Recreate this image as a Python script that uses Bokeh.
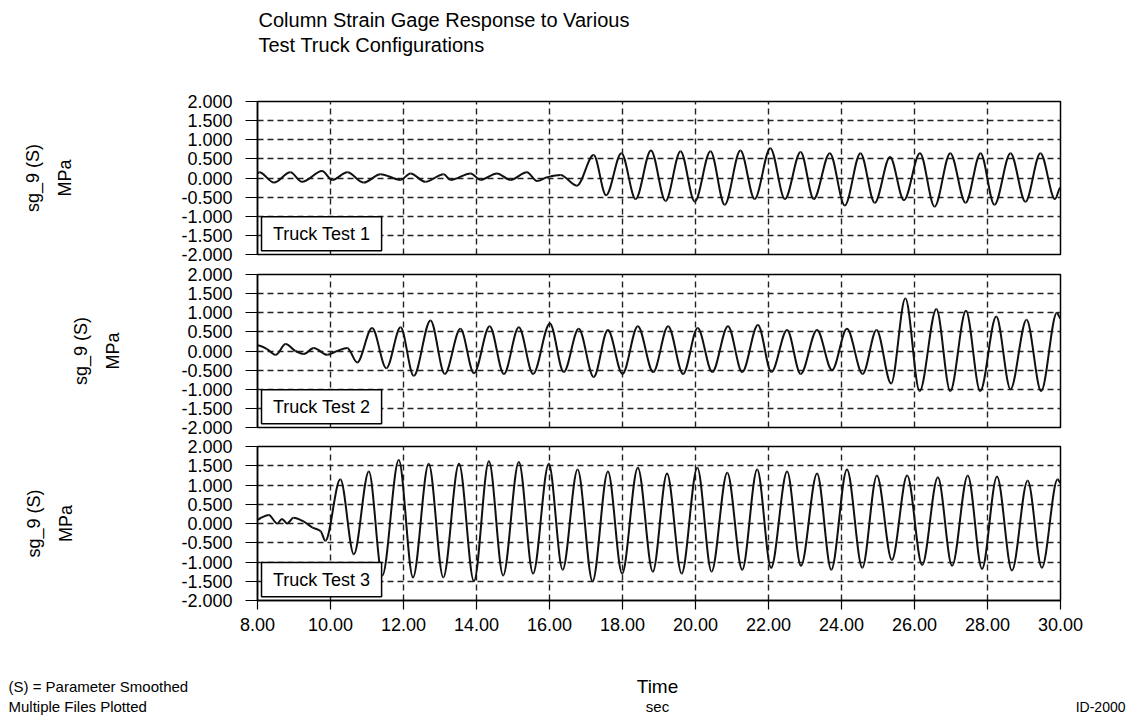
import numpy as np
from bokeh.plotting import figure
from bokeh.models import (LinearAxis, Grid, FixedTicker, PrintfTickFormatter,
                          Range1d, Label, BoxAnnotation, ColumnDataSource)
from bokeh.layouts import column
from bokeh.embed import file_html
from bokeh.resources import INLINE
from bokeh.core.properties import value

FONT = "Liberation Sans"

# ---------------- data ----------------
title_lines = ["Column Strain Gage Response to Various", "Test Truck Configurations"]
x_ticks = [8.0, 10.0, 12.0, 14.0, 16.0, 18.0, 20.0, 22.0, 24.0, 26.0, 28.0, 30.0]
y_ticks = [-2.0, -1.5, -1.0, -0.5, 0.0, 0.5, 1.0, 1.5, 2.0]
test_names = ["Truck Test 1", "Truck Test 2", "Truck Test 3"]
y_title = "sg_9 (S)\nMPa"
x_name = "Time"
x_unit = "sec"
notes = ["(S) = Parameter Smoothed", "Multiple Files Plotted"]
doc_id = "ID-2000"

# Truck Test 1 : time (s), stress (MPa) at extrema / turning points
t1 = [8.00, 8.05, 8.45, 8.90, 9.22, 9.77, 10.05, 10.46, 10.91, 11.37,
      11.92, 12.19, 12.60, 13.10, 13.29, 13.84, 14.11, 14.56, 14.93, 15.38,
      15.66, 15.93, 16.30, 16.75, 17.21, 17.55, 17.97, 18.36, 18.78, 19.18,
      19.59, 19.98, 20.41, 20.80, 21.23, 21.62, 22.05, 22.45, 22.88, 23.24,
      23.68, 24.09, 24.52, 24.91, 25.33, 25.71, 26.15, 26.55, 26.98, 27.40,
      27.81, 28.19, 28.63, 29.04, 29.45, 29.85, 30.00]
v1 = [0.12, 0.15, -0.12, 0.15, -0.10, 0.18, -0.05, 0.15, -0.12, 0.10,
      -0.05, 0.12, -0.10, 0.10, -0.05, 0.12, -0.05, 0.12, -0.05, 0.15,
      -0.08, 0.02, 0.08, -0.20, 0.60, -0.45, 0.65, -0.55, 0.72, -0.60,
      0.70, -0.62, 0.70, -0.70, 0.72, -0.55, 0.78, -0.55, 0.68, -0.55,
      0.65, -0.72, 0.65, -0.65, 0.55, -0.58, 0.65, -0.75, 0.65, -0.65,
      0.65, -0.70, 0.65, -0.62, 0.65, -0.55, -0.25]

# Truck Test 2
t2 = [8.00, 8.26, 8.50, 8.77, 9.04, 9.27, 9.54, 9.91, 10.18, 10.46,
      10.73, 11.14, 11.53, 11.92, 12.28, 12.74, 13.13, 13.56, 13.93, 14.36,
      14.75, 15.16, 15.55, 16.01, 16.39, 16.80, 17.21, 17.60, 18.00, 18.42,
      18.84, 19.25, 19.66, 20.06, 20.46, 20.89, 21.28, 21.71, 22.08, 22.51,
      22.88, 23.33, 23.74, 24.15, 24.58, 24.96, 25.36, 25.75, 26.14, 26.60,
      26.98, 27.41, 27.80, 28.24, 28.63, 29.07, 29.47, 29.90, 30.00]
v2 = [0.15, 0.05, -0.10, 0.18, 0.00, -0.08, 0.08, -0.10, 0.00, 0.08,
      -0.30, 0.60, -0.45, 0.62, -0.65, 0.80, -0.60, 0.58, -0.58, 0.65,
      -0.60, 0.62, -0.60, 0.72, -0.55, 0.58, -0.68, 0.55, -0.60, 0.65,
      -0.55, 0.65, -0.60, 0.60, -0.55, 0.65, -0.55, 0.68, -0.55, 0.55,
      -0.60, 0.55, -0.50, 0.58, -0.60, 0.55, -0.85, 1.38, -1.05, 1.10,
      -1.05, 1.05, -1.05, 0.90, -1.00, 0.82, -1.05, 1.00, 0.85]

# Truck Test 3
t3 = [8.00, 8.10, 8.31, 8.54, 8.67, 8.81, 8.99, 9.27, 9.50, 9.73,
      9.86, 10.27, 10.64, 11.05, 11.42, 11.87, 12.26, 12.69, 13.09, 13.52,
      13.93, 14.34, 14.73, 15.16, 15.55, 15.98, 16.36, 16.77, 17.18, 17.60,
      17.99, 18.42, 18.83, 19.22, 19.62, 20.05, 20.44, 20.87, 21.28, 21.69,
      22.07, 22.51, 22.89, 23.33, 23.72, 24.15, 24.57, 24.97, 25.38, 25.80,
      26.21, 26.64, 27.03, 27.46, 27.85, 28.26, 28.67, 29.10, 29.49, 29.92,
      30.00]
v3 = [0.10, 0.15, 0.22, 0.00, 0.12, 0.00, 0.15, 0.05, -0.10, -0.20,
      -0.45, 1.15, -0.80, 1.35, -1.35, 1.65, -1.40, 1.55, -1.40, 1.55,
      -1.50, 1.62, -1.35, 1.60, -1.30, 1.55, -1.20, 1.40, -1.50, 1.35,
      -1.30, 1.45, -1.25, 1.30, -1.30, 1.45, -1.25, 1.32, -1.20, 1.40,
      -1.15, 1.35, -1.10, 1.30, -1.20, 1.40, -1.15, 1.25, -0.95, 1.25,
      -1.08, 1.20, -1.10, 1.25, -1.18, 1.22, -1.22, 1.12, -1.15, 1.15,
      1.05]

series = [(t1, v1), (t2, v2), (t3, v3)]


def smooth_source(t, v):
    """Monotone cubic Hermite rendering of the read points as Bezier segments."""
    t = np.asarray(t, float)
    v = np.asarray(v, float)
    h = np.diff(t)
    d = np.diff(v) / h
    m = np.zeros_like(v)
    for i in range(1, len(v) - 1):
        if d[i - 1] * d[i] > 0:
            m[i] = 2 * d[i - 1] * d[i] / (d[i - 1] + d[i])
    x0, x1, y0, y1 = t[:-1], t[1:], v[:-1], v[1:]
    return ColumnDataSource(dict(
        x0=x0, y0=y0, x1=x1, y1=y1,
        cx0=x0 + h / 3, cy0=y0 + m[:-1] * h / 3,
        cx1=x1 - h / 3, cy1=y1 - m[1:] * h / 3))


W = 1130
LEFT, RIGHT = 257, 70


def hide_default_grids(fig):
    for g in fig.grid:
        g.visible = False


def text_canvas(top, bottom):
    """A blank strip whose ranges are page pixels (y grows downwards)."""
    c = figure(width=W, height=bottom - top, x_range=Range1d(0, W),
               y_range=Range1d(bottom, top), x_axis_location=None,
               y_axis_location=None, toolbar_location=None,
               output_backend="svg", min_border=0, min_border_left=0,
               min_border_right=0, min_border_top=0, min_border_bottom=0)
    hide_default_grids(c)
    c.outline_line_color = None
    c.background_fill_color = "white"
    c.border_fill_color = "white"
    return c


# ---------------- header ----------------
header = text_canvas(0, 91)
header.text(x=[258, 258], y=[19, 44], text=title_lines,
            text_font=value(FONT), text_font_size="20px",
            text_baseline="middle", text_align="left", text_color="black")

# ---------------- panels ----------------
# (top border, frame height, bottom border, y-title standoff)
geo = [(10, 153, 10, 103), (10, 153, 10, 55), (9, 154, 40, 102)]

panels = []
for k, ((t, v), (btop, fh, bbot, stand)) in enumerate(zip(series, geo)):
    p = figure(width=W, height=btop + fh + bbot,
               x_range=Range1d(x_ticks[0], x_ticks[-1]),
               y_range=Range1d(y_ticks[0], y_ticks[-1]),
               x_axis_location=None, y_axis_location=None,
               toolbar_location=None, output_backend="svg",
               min_border_left=LEFT, min_border_right=RIGHT,
               min_border_top=btop, min_border_bottom=bbot)
    hide_default_grids(p)
    p.background_fill_color = "white"
    p.border_fill_color = "white"
    p.outline_line_color = "black"
    p.outline_line_width = 1.5

    yax = LinearAxis(ticker=FixedTicker(ticks=y_ticks),
                     formatter=PrintfTickFormatter(format="%.3f"),
                     major_tick_out=12, major_tick_in=0,
                     minor_tick_out=0, minor_tick_in=0,
                     major_tick_line_color="black", major_tick_line_width=1.2,
                     axis_line_color="black", axis_line_width=1.5,
                     major_label_standoff=13,
                     major_label_text_font=FONT,
                     major_label_text_font_size="18px",
                     major_label_text_color="black",
                     axis_label=y_title,
                     axis_label_standoff=stand,
                     axis_label_text_font=FONT,
                     axis_label_text_font_size="18px",
                     axis_label_text_font_style="normal",
                     axis_label_text_color="black",
                     axis_label_text_line_height=1.6)
    p.add_layout(yax, "left")

    if k == 2:
        xax = LinearAxis(ticker=FixedTicker(ticks=x_ticks),
                         formatter=PrintfTickFormatter(format="%.2f"),
                         major_tick_out=9, major_tick_in=0,
                         minor_tick_out=0, minor_tick_in=0,
                         major_tick_line_color="black", major_tick_line_width=1.2,
                         axis_line_color="black", axis_line_width=1.5,
                         major_label_standoff=8,
                         major_label_text_font=FONT,
                         major_label_text_font_size="18px",
                         major_label_text_color="black")
        p.add_layout(xax, "below")

    p.add_layout(Grid(dimension=0, ticker=FixedTicker(ticks=x_ticks),
                      grid_line_color="#222222", grid_line_width=1.4,
                      grid_line_dash="6 4"))
    p.add_layout(Grid(dimension=1, ticker=FixedTicker(ticks=y_ticks),
                      grid_line_color="#222222", grid_line_width=1.4,
                      grid_line_dash="6 4"))

    src = smooth_source(t, v)
    p.bezier(x0="x0", y0="y0", x1="x1", y1="y1", cx0="cx0", cy0="cy0",
             cx1="cx1", cy1="cy1", source=src, line_color="#111111",
             line_width=2)

    # "Truck Test n" box
    p.add_layout(BoxAnnotation(left=8.11, right=11.40, bottom=-1.90, top=-1.01,
                               fill_color="white", fill_alpha=1.0,
                               line_color="black", line_alpha=1.0,
                               line_width=1.5))
    p.add_layout(Label(x=9.755, y=-1.455, text=test_names[k],
                       text_align="center", text_baseline="middle",
                       text_font=FONT, text_font_size="18px",
                       text_color="black"))
    panels.append(p)

# ---------------- footer ----------------
footer = text_canvas(640, 717)
footer.text(x=[8, 8], y=[686, 706], text=notes, text_font=value(FONT),
            text_font_size="15px", text_baseline="middle", text_align="left",
            text_color="black")
footer.text(x=[657], y=[686], text=[x_name], text_font=value(FONT),
            text_font_size="19px", text_baseline="middle", text_align="center",
            text_color="black")
footer.text(x=[657], y=[706], text=[x_unit], text_font=value(FONT),
            text_font_size="15px", text_baseline="middle", text_align="center",
            text_color="black")
footer.text(x=[1125], y=[706], text=[doc_id], text_font=value(FONT),
            text_font_size="14px", text_baseline="middle", text_align="right",
            text_color="black")

layout = column(column(header), column(*panels), column(footer))
open("out.html", "w").write(file_html(layout, INLINE))
